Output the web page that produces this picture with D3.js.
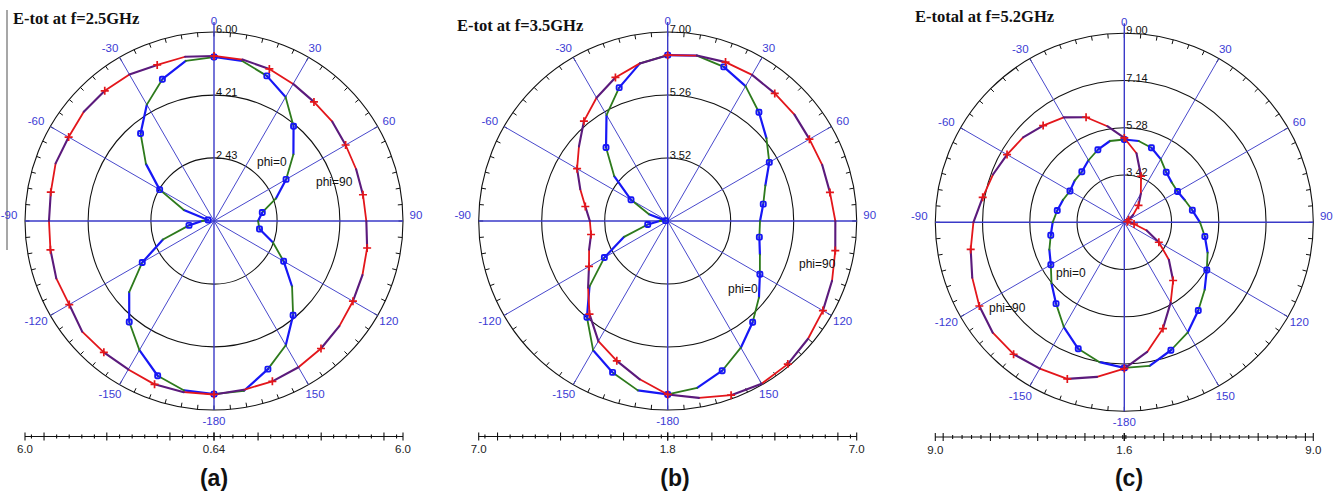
<!DOCTYPE html>
<html>
<head>
<meta charset="utf-8">
<script src="https://cdn.jsdelivr.net/npm/d3@7"></script>
<style>
  body { margin: 0; background: #fff; }
  svg { display: block; }
</style>
</head>
<body>
<svg id="chart" width="1340" height="496"></svg>
<script>
// sample angles in degrees, clockwise from the top (theta)
var angles = d3.range(-180, 181, 10)

// E-total (a) (b) (c)
var phi0A  = [5.55,5.52,5.31,4.87,4.38,3.78,2.99,2.18,1.36,0.98,0.81,1.55,2.42,3.16,3.88,4.45,4.92,5.25,5.29,5.25,5.02,4.70,4.15,3.58,3.00,2.51,2.03,1.89,1.95,2.42,2.92,3.53,4.13,4.71,5.11,5.53,5.55]
var phi90A = [5.56,5.57,5.57,5.50,5.50,5.52,5.38,5.40,5.35,5.32,5.34,5.42,5.40,5.46,5.46,5.44,5.35,5.37,5.32,5.29,5.23,5.13,5.05,5.02,4.95,4.93,4.93,4.96,5.05,5.12,5.19,5.28,5.36,5.43,5.48,5.50,5.56]
var phi0B  = [6.57,6.53,6.23,5.90,5.25,4.60,3.80,3.06,2.34,2.00,1.84,2.33,2.95,3.71,4.43,5.16,5.70,6.20,6.36,6.42,6.31,6.08,5.70,5.34,5.02,4.65,4.46,4.33,4.35,4.49,4.72,5.07,5.43,5.82,6.18,6.46,6.57]
var phi90B = [6.57,6.22,5.89,5.61,5.14,4.65,4.29,4.09,3.93,3.93,4.09,4.35,4.67,4.98,5.38,5.71,6.00,6.20,6.36,6.42,6.45,6.44,6.38,6.35,6.30,6.32,6.33,6.41,6.48,6.61,6.73,6.84,6.94,6.97,6.90,6.74,6.57]
var phi0C  = [7.29,7.15,6.86,6.32,5.74,5.30,4.90,4.70,4.50,4.38,4.24,4.13,4.03,4.11,4.16,4.38,4.60,4.81,4.82,4.81,4.68,4.43,4.13,4.00,3.98,4.10,4.28,4.54,4.78,5.05,5.31,5.69,6.09,6.56,6.92,7.30,7.29]
var phi90C = [7.32,7.74,8.12,8.21,8.34,8.32,8.15,7.93,7.70,7.50,7.22,7.06,6.89,6.76,6.53,6.33,5.96,5.40,4.88,4.32,3.49,2.86,2.43,2.01,1.76,1.68,1.68,1.76,1.95,2.50,3.13,3.85,4.55,5.21,6.01,6.74,7.32]

var titles = ['E-tot at f=2.5GHz', 'E-tot at f=3.5GHz', 'E-total at f=5.2GHz']
var panelNames = ['(a)', '(b)', '(c)']
var centerVals = [0.64, 1.78, 1.56]
var outerVals = [6.0, 7.0, 9.0]
var ringLabels = [['2.43', '4.21', '6.00'], ['3.52', '5.26', '7.00'], ['3.42', '5.28', '7.14', '9.00']]
var axisEndLabels = ['6.0', '7.0', '9.0']
var axisCenterLabels = ['0.64', '1.8', '1.6']
var axisMajors = [[1.89, 3.68, 5.46], [3.00, 4.74, 6.48], [3.11, 4.97, 6.83, 8.69]]
var axisMinorStep = [0.357, 0.348, 0.372]
var spokeAngles = [0, 30, 60, 90, 120, 150, 180, -150, -120, -90, -60, -30]
var spokeLabels = ['0', '30', '60', '90', '120', '150', '-180', '-150', '-120', '-90', '-60', '-30']

var traces = [[phi0A, phi90A], [phi0B, phi90B], [phi0C, phi90C]]

// layout
var R = 189
var panels = [
  { cx: 214, cy: 221, title: [13, 24], axisY: 436.5, name: 214,
    phi0: [257, 166], phi90: [316, 186] },
  { cx: 667.7, cy: 221, title: [457, 30.7], axisY: 436.5, name: 675,
    phi0: [728, 292.5], phi90: [799, 267.5] },
  { cx: 1124.3, cy: 222.3, title: [915, 21.7], axisY: 437, name: 1129,
    phi0: [1056, 277], phi90: [989, 312.5] }
]

var blue = '#1717f5', green = '#2d7a1c', red = '#e3161b', purple = '#5b1a7c'
var spokeColor = '#4848cc', labelBlue = '#3b3bd4'

var svg = d3.select('#chart')
svg.append('rect').attr('width', 1340).attr('height', 496).attr('fill', '#fff')

// stray frame line at left edge
svg.append('line').attr('x1', 7).attr('x2', 7).attr('y1', 10).attr('y2', 250)
  .attr('stroke', '#8a8a8a').attr('stroke-width', 1.5)

var rad = d3.scaleLinear().domain([0, 180]).range([0, Math.PI])

panels.forEach(function(p, k) {
  var r = d3.scaleLinear().domain([centerVals[k], outerVals[k]]).range([0, R])
  var g = svg.append('g').attr('transform', 'translate(' + p.cx + ',' + p.cy + ')')

  // rings
  ringLabels[k].forEach(function(lbl) {
    g.append('circle').attr('r', r(+lbl)).attr('fill', 'none')
      .attr('stroke', '#111').attr('stroke-width', 1.1)
  })

  // outer ticks every 5 degrees, inward
  d3.range(0, 360, 5).forEach(function(a) {
    var p1 = d3.pointRadial(rad(a), R), p2 = d3.pointRadial(rad(a), R - 4.5)
    g.append('line').attr('x1', p1[0]).attr('y1', p1[1]).attr('x2', p2[0]).attr('y2', p2[1])
      .attr('stroke', '#111').attr('stroke-width', 1)
  })

  // spokes
  spokeAngles.forEach(function(a) {
    var len = a === 0 ? R + 10 : R
    var e = d3.pointRadial(rad(a), len)
    var axisLine = (a === 0 || a === 180 || a === 90 || a === -90)
    g.append('line').attr('x1', 0).attr('y1', 0).attr('x2', e[0]).attr('y2', e[1])
      .attr('stroke', axisLine ? '#3a3ac8' : spokeColor)
      .attr('stroke-width', axisLine ? 1.4 : 1)
  })

  // angle labels
  spokeAngles.forEach(function(a, i) {
    var s = Math.sin(rad(a)), c = Math.cos(rad(a))
    var x = 202 * s + (a < 0 && a > -180 ? -3 : 0)
    var y = -200 * c + (Math.abs(a) === 90 ? -6 : 0)
    g.append('text').attr('x', x).attr('y', y).attr('dy', '0.36em')
      .attr('text-anchor', 'middle')
      .attr('font-family', 'Liberation Sans, Arial, sans-serif').attr('font-size', 11.5)
      .attr('fill', labelBlue).text(spokeLabels[i])
  })

  // ring value labels
  ringLabels[k].forEach(function(lbl) {
    g.append('text').attr('x', 2).attr('y', -r(+lbl) + 1)
      .attr('font-family', 'Liberation Sans, Arial, sans-serif').attr('font-size', 11)
      .attr('fill', '#111').text(lbl)
  })

  // traces
  var line = d3.lineRadial()
    .angle(function(d) { return rad(d[0]) })
    .radius(function(d) { return r(d[1]) })

  function drawTrace(vals, c1, c2, w1, w2) {
    var pts = angles.map(function(a, i) { return [a, vals[i]] })
    for (var i = 0; i < pts.length - 1; i++) {
      g.append('path').attr('d', line([pts[i], pts[i + 1]]))
        .attr('fill', 'none').attr('stroke', i % 2 ? c2 : c1)
        .attr('stroke-width', i % 2 ? w2 : w1).attr('stroke-linecap', 'round')
    }
    return pts.filter(function(d) { return d[0] % 20 === 0 && d[0] !== 180 })
  }

  var m0 = drawTrace(traces[k][0], blue, green, 2.2, 1.8)
  m0.forEach(function(d) {
    var q = d3.pointRadial(rad(d[0]), r(d[1]))
    g.append('rect').attr('x', q[0] - 2.5).attr('y', q[1] - 2.5)
      .attr('width', 5).attr('height', 5).attr('rx', 1.2)
      .attr('fill', 'none').attr('stroke', blue).attr('stroke-width', 1.9)
  })

  var m90 = drawTrace(traces[k][1], red, purple, 1.8, 2.1)
  m90.forEach(function(d) {
    var q = d3.pointRadial(rad(d[0]), r(d[1]))
    g.append('path')
      .attr('d', 'M' + (q[0] - 4) + ',' + q[1] + 'H' + (q[0] + 4) + 'M' + q[0] + ',' + (q[1] - 4) + 'V' + (q[1] + 4))
      .attr('stroke', red).attr('stroke-width', 1.7)
  })

  // trace labels
  g.append('text').attr('x', p.phi0[0] - p.cx).attr('y', p.phi0[1] - p.cy)
    .attr('font-family', 'Liberation Sans, Arial, sans-serif').attr('font-size', 12)
    .attr('fill', '#111').text('phi=0')
  g.append('text').attr('x', p.phi90[0] - p.cx).attr('y', p.phi90[1] - p.cy)
    .attr('font-family', 'Liberation Sans, Arial, sans-serif').attr('font-size', 12)
    .attr('fill', '#111').text('phi=90')

  // title
  svg.append('text').attr('x', p.title[0]).attr('y', p.title[1])
    .attr('font-family', 'Liberation Serif, Times New Roman, serif').attr('font-weight', 'bold')
    .attr('font-size', 16.5).attr('fill', '#111').text(titles[k])

  // bottom linear axis: outer -> center -> outer
  var xl = d3.scaleLinear().domain([outerVals[k], centerVals[k]]).range([p.cx - R, p.cx])
  var xr = d3.scaleLinear().domain([centerVals[k], outerVals[k]]).range([p.cx, p.cx + R])
  var ax = svg.append('g').attr('transform', 'translate(0,' + p.axisY + ')')
  ax.append('line').attr('x1', xl(outerVals[k])).attr('x2', xr(outerVals[k]))
    .attr('stroke', '#111').attr('stroke-width', 1.2)

  var majors = [outerVals[k], centerVals[k]].concat(axisMajors[k])
  var top = axisMajors[k][axisMajors[k].length - 1]
  var minors = []
  for (var v = top + axisMinorStep[k]; v < outerVals[k] - 0.05; v += axisMinorStep[k]) minors.push(v)
  for (var v2 = top - axisMinorStep[k]; v2 > centerVals[k] + 0.05; v2 -= axisMinorStep[k]) minors.push(v2)

  function tick(x, h) {
    ax.append('line').attr('x1', x).attr('x2', x).attr('y1', -h).attr('y2', h)
      .attr('stroke', '#111').attr('stroke-width', 1.1)
  }
  majors.forEach(function(v) { tick(xl(v), 4); tick(xr(v), 4) })
  minors.forEach(function(v) {
    if (axisMajors[k].some(function(m) { return Math.abs(m - v) < 0.05 })) return
    tick(xl(v), 2); tick(xr(v), 2)
  })

  var axLabels = [[xl(outerVals[k]), axisEndLabels[k]], [p.cx, axisCenterLabels[k]], [xr(outerVals[k]), axisEndLabels[k]]]
  axLabels.forEach(function(d) {
    ax.append('text').attr('x', d[0]).attr('y', 16.5).attr('text-anchor', 'middle')
      .attr('font-family', 'Liberation Sans, Arial, sans-serif').attr('font-size', 11.5)
      .attr('fill', '#222').text(d[1])
  })

  // panel label
  svg.append('text').attr('x', p.name).attr('y', 486).attr('text-anchor', 'middle')
    .attr('font-family', 'Liberation Sans, Arial, sans-serif').attr('font-weight', 'bold')
    .attr('font-size', 23).attr('fill', '#111').text(panelNames[k])
})
</script>
</body>
</html>
